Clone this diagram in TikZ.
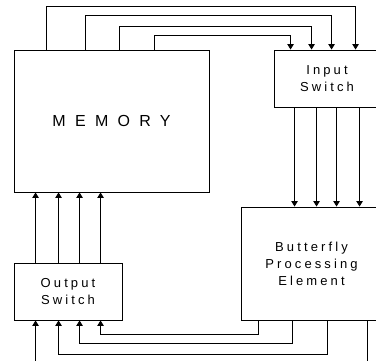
\documentclass[tikz,border=0pt]{standalone}
\usepackage{fontspec}
\setmainfont{Liberation Sans}
\newfontfamily\bigsp[LetterSpace=58]{Liberation Sans}
\newfontfamily\smallsp[LetterSpace=24]{Liberation Sans}
\usetikzlibrary{arrows.meta,calc}
\tikzset{
  blk/.style={draw, line width=0.9pt, inner sep=0pt, align=center, font=\smallsp\fontsize{13}{17}\selectfont},
  wire/.style={line width=0.9pt, ->, >={Triangle[width=6.5pt,length=5.5pt]}}
}
\begin{document}
\begin{tikzpicture}[x=1pt,y=-1pt]
\useasboundingbox (0,0) rectangle (376,360);
\node[blk, minimum width=195pt, minimum height=142pt, font=\bigsp\fontsize{16}{19}\selectfont] (mem) at (111.5,121) {MEMORY};
\node[blk, minimum width=106pt, minimum height=57pt] (inp) at (327,78.5) {Input\\Switch};
\node[blk, minimum width=141pt, minimum height=113pt] (bpe) at (311.5,263.5) {Butterfly\\Processing\\Element};
\node[blk, minimum width=108pt, minimum height=57pt] (out) at (68,291.5) {Output\\Switch};
% memory -> input switch
\draw[wire] ($(mem.north west)+(33,0)$) -- ++(0,-43) -| ($(inp.north west)+(82,0)$);
\draw[wire] ($(mem.north west)+(72,0)$) -- ++(0,-34) -| ($(inp.north west)+(58,0)$);
\draw[wire] ($(mem.north west)+(106,0)$) -- ++(0,-23) -| ($(inp.north west)+(38,0)$);
\draw[wire] ($(mem.north west)+(141,0)$) -- ++(0,-14) -| ($(inp.north west)+(17,0)$);
% input switch -> butterfly
\foreach \a/\b in {21/54,43/76,63/96,86/119}
  \draw[wire] ($(inp.south west)+(\a,0)$) -- ($(bpe.north west)+(\b,0)$);
% output switch -> memory
\foreach \a in {22,45,66,87}
  \draw[wire] ($(out.north west)+(\a,0)$) -- ($(mem.south west)+(\a,0)$);
% butterfly -> output switch
\draw[wire] ($(bpe.south west)+(18,0)$) -- ++(0,14) -| ($(out.south west)+(87,0)$);
\draw[wire] ($(bpe.south west)+(52,0)$) -- ++(0,23) -| ($(out.south west)+(66,0)$);
\draw[wire] ($(bpe.south west)+(87,0)$) -- ++(0,34) -| ($(out.south west)+(45,0)$);
\draw[wire] ($(bpe.south west)+(127,0)$) -- ++(0,46) -| ($(out.south west)+(22,0)$);
\end{tikzpicture}
\end{document}
